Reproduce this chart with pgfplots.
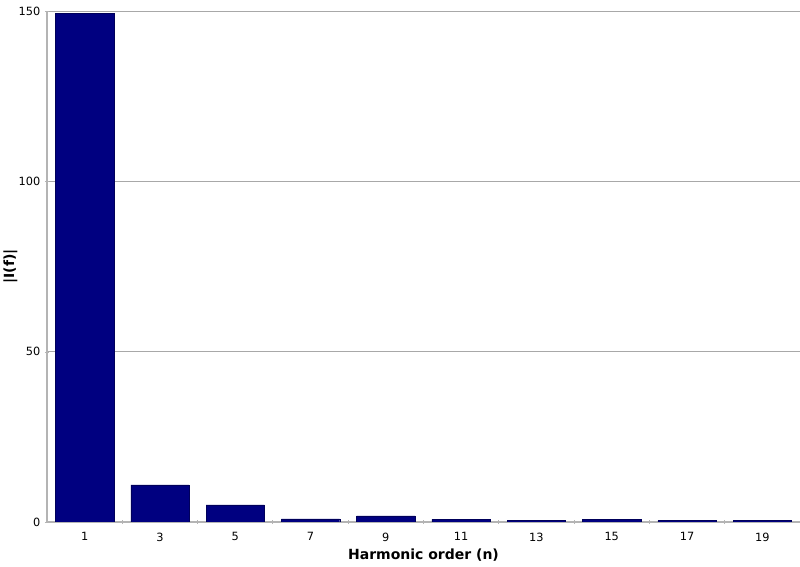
\documentclass[border=0pt]{standalone}
\usepackage{pgfplots}
\pgfplotsset{compat=1.18}
\usepackage{fontspec}
\setmainfont{DejaVu Sans}
\definecolor{barblue}{HTML}{000080}
\definecolor{gridgray}{HTML}{A8A8A8}
\definecolor{axisgray}{HTML}{B4B4B4}
\begin{document}
\begin{tikzpicture}
\path[use as bounding box] (-35.25pt,-33.75pt) rectangle (564.75pt,391.5pt);
\begin{axis}[
    at={(0,0)}, anchor=south west,
    scale only axis,
    width=564.75pt, height=383.25pt,
    xmin=-0.5, xmax=9.5,
    ymin=0, ymax=150,
    ytick={0,50,100,150},
    xtick={0,...,9},
    xticklabels={1,3,5,7,9,11,13,15,17,19},
    minor xtick={0.5,1.5,...,8.5},
    ymajorgrids=true,
    grid style={gridgray, line width=0.6pt},
    axis x line*=bottom,
    axis y line*=left,
    axis line style={axisgray, line width=0.9pt, -},
    major x tick style={draw=none},
    minor x tick style={axisgray, line width=0.8pt},
    minor tick length=3pt,
    major tick length=3pt,
    ytick style={axisgray},
    tick align=center,
    tick label style={font=\fontsize{8.5}{10}\selectfont, text=black},
    /pgf/number format/assume math mode=true,
    xticklabel style={yshift=-3pt},
    xlabel={\textbf{Harmonic order (n)}},
    ylabel={\textbf{|I(f)|}},
    label style={font=\fontsize{10.5}{12}\selectfont},
    xlabel style={yshift=1pt},
    ylabel style={at={(axis description cs:0,0.5)}, anchor=center, yshift=27.5pt},
]
\addplot[ybar, bar width=0.775, fill=barblue, draw=barblue!70!black, line width=0.3pt]
    coordinates {
    (0,149.3)
    (1,10.9)
    (2,5.0)
    (3,0.9)
    (4,1.8)
    (5,0.8)
    (6,0.4)
    (7,0.8)
    (8,0.4)
    (9,0.4)
    };
\end{axis}
\end{tikzpicture}
\end{document}
